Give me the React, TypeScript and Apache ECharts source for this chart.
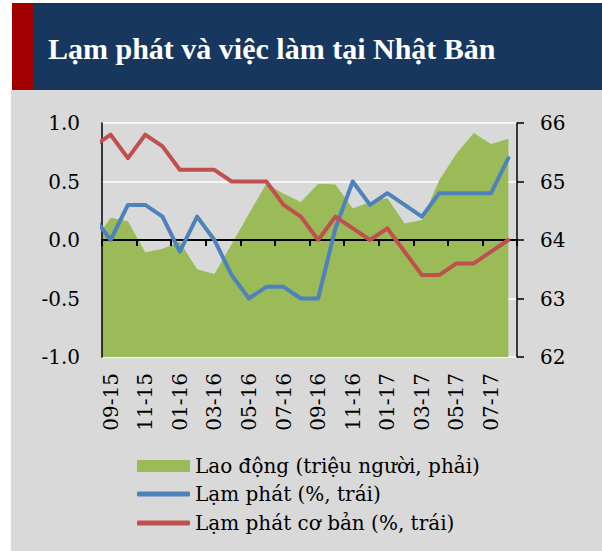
import React, { useEffect, useRef } from "react";
import * as echarts from "echarts";

// 08-15 lies just left of the visible range; it is drawn and clipped at the axis, as in the source
const months = ["08-15", "09-15", "10-15", "11-15", "12-15", "01-16", "02-16", "03-16", "04-16", "05-16", "06-16", "07-16", "08-16", "09-16", "10-16", "11-16", "12-16", "01-17", "02-17", "03-17", "04-17", "05-17", "06-17", "07-17", "08-17"];
const inflation = [0.2, 0.0, 0.3, 0.3, 0.2, -0.1, 0.2, 0.0, -0.3, -0.5, -0.4, -0.4, -0.5, -0.5, 0.1, 0.5, 0.3, 0.4, 0.3, 0.2, 0.4, 0.4, 0.4, 0.4, 0.7];
const coreInflation = [0.8, 0.9, 0.7, 0.9, 0.8, 0.6, 0.6, 0.6, 0.5, 0.5, 0.5, 0.3, 0.2, 0.0, 0.2, 0.1, 0.0, 0.1, -0.1, -0.3, -0.3, -0.2, -0.2, -0.1, 0.0];
const labor = [63.96, 64.38, 64.32, 63.79, 63.85, 63.97, 63.5, 63.42, 63.93, 64.45, 64.96, 64.79, 64.65, 64.96, 64.95, 64.54, 64.65, 64.72, 64.28, 64.34, 65.02, 65.48, 65.83, 65.64, 65.73];
const labelMonths = months.slice(1);

const TITLE = "Lạm phát và việc làm tại Nhật Bản";
const S_LABOR = "Lao động (triệu người, phải)";
const S_INFL = "Lạm phát (%, trái)";
const S_CORE = "Lạm phát cơ bản (%, trái)";

const FONT = "DejaVu Serif";

const toXY = (arr: number[]) => arr.map((v, k) => [k - 0.5, v]);

export default function App() {
  const ref = useRef<HTMLDivElement>(null);
  useEffect(() => {
    if (!ref.current) return;
    const chart = echarts.init(ref.current, null, { renderer: "svg" });
    const legendText = { fontFamily: FONT, fontSize: 20, color: "#000", lineHeight: 24 };
    chart.setOption({
      animation: false,
      graphic: {
        elements: [
          { type: "rect", z: -10, silent: true, shape: { x: 11, y: 90, width: 591, height: 461 }, style: { fill: "#d9d9d9" } },
          { type: "rect", z: -10, silent: true, shape: { x: 12, y: 3, width: 590, height: 87 }, style: { fill: "#17375e" } },
          { type: "rect", z: -9, silent: true, shape: { x: 12, y: 3, width: 21, height: 87 }, style: { fill: "#a00000" } },
          {
            type: "text", z: -9, silent: true, x: 48, y: 48,
            style: { text: TITLE, fill: "#fff", font: 'bold 30px "Liberation Serif"', verticalAlign: "middle", align: "left" },
          },
        ],
      },
      grid: { left: 102, top: 123, width: 415, height: 234 },
      xAxis: [
        {
          type: "value", min: 0, max: 24, interval: 2, position: "bottom", z: 5,
          axisLine: { show: true, onZero: true, onZeroAxisIndex: 0, lineStyle: { color: "#000", width: 2 } },
          axisTick: { show: true, length: 6, lineStyle: { color: "#000", width: 2 } },
          axisLabel: { show: false },
          splitLine: { show: false },
        },
        {
          type: "category", data: labelMonths, position: "bottom", boundaryGap: true, z: 5,
          axisLine: { show: false, onZero: false },
          axisTick: { show: false },
          splitLine: { show: false },
          axisLabel: { rotate: 90, interval: 1, margin: 16, fontFamily: FONT, fontSize: 20, color: "#000" },
        },
      ],
      yAxis: [
        {
          type: "value", min: -1, max: 1, interval: 0.5, position: "left", z: 0,
          axisLine: { show: false, onZero: false },
          axisTick: { show: false },
          splitLine: { show: true, lineStyle: { color: "#ffffff", width: 1.5 } },
          axisLabel: { margin: 22, fontFamily: FONT, fontSize: 20, color: "#000", formatter: (v: number) => v.toFixed(1) },
        },
        {
          type: "value", min: 62, max: 66, interval: 1, position: "right", z: 5,
          axisLine: { show: true, onZero: false, lineStyle: { color: "#000", width: 1.5 } },
          axisTick: { show: true, length: 7, lineStyle: { color: "#000", width: 1.5 } },
          splitLine: { show: false },
          axisLabel: { margin: 23, fontFamily: FONT, fontSize: 20, color: "#000" },
        },
        {
          type: "value", min: -1, max: 1, interval: 0.5, position: "left", z: 5,
          axisLine: { show: true, onZero: false, lineStyle: { color: "#000", width: 1.5 } },
          axisTick: { show: false },
          axisLabel: { show: false },
          splitLine: { show: false },
        },
      ],
      legend: [
        {
          data: [{ name: S_LABOR, icon: "rect" }], left: 137, top: 454, padding: 0,
          itemWidth: 53, itemHeight: 12, textStyle: legendText,
        },
        {
          data: [{ name: S_INFL, icon: "roundRect" }], left: 137, top: 482, padding: 0,
          itemWidth: 53, itemHeight: 5, textStyle: legendText,
        },
        {
          data: [{ name: S_CORE, icon: "roundRect" }], left: 137, top: 511, padding: 0,
          itemWidth: 53, itemHeight: 5, textStyle: legendText,
        },
      ],
      series: [
        {
          name: S_LABOR, type: "line", xAxisIndex: 0, yAxisIndex: 1, data: toXY(labor),
          symbol: "none", z: 2, clip: true,
          itemStyle: { color: "#9bbb59" },
          lineStyle: { width: 0, color: "#9bbb59" },
          areaStyle: { color: "#9bbb59", opacity: 1, origin: "start" },
        },
        {
          name: S_INFL, type: "line", xAxisIndex: 0, yAxisIndex: 0, data: toXY(inflation),
          symbol: "none", z: 10, clip: true,
          itemStyle: { color: "#4f81bd" },
          lineStyle: { width: 4, color: "#4f81bd", join: "round", cap: "round" },
        },
        {
          name: S_CORE, type: "line", xAxisIndex: 0, yAxisIndex: 0, data: toXY(coreInflation),
          symbol: "none", z: 11, clip: true,
          itemStyle: { color: "#c0504d" },
          lineStyle: { width: 4, color: "#c0504d", join: "round", cap: "round" },
        },
      ],
    });
    return () => chart.dispose();
  }, []);
  return (
    <div
      ref={ref}
      style={{ position: "fixed", left: 0, top: 0, width: 602, height: 551, background: "#fff" }}
    />
  );
}
